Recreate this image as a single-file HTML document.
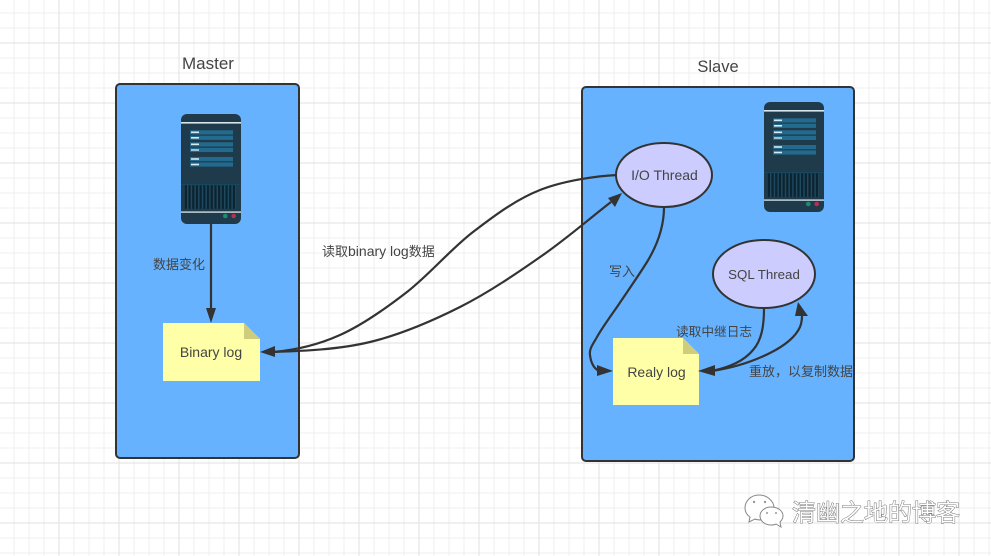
<!DOCTYPE html>
<html>
<head>
<meta charset="utf-8">
<style>
html,body{margin:0;padding:0;background:#fff}
svg{display:block}
text{font-family:"Liberation Sans","Noto Sans CJK SC",sans-serif;fill:#444}
</style>
</head>
<body>
<svg width="991" height="556" viewBox="0 0 991 556" xmlns="http://www.w3.org/2000/svg">
<defs>
<pattern id="g" width="15" height="15" patternUnits="userSpaceOnUse" x="-1.5" y="-2.5">
<path d="M0 0H15M0 0V15" stroke="#efefef" stroke-width="2" fill="none"/>
</pattern>
<pattern id="G" width="60" height="60" patternUnits="userSpaceOnUse" x="-1.5" y="-17.5">
<path d="M0 0H60M0 0V60" stroke="#e2e2e2" stroke-width="2" fill="none"/>
</pattern>
<pattern id="v" width="3.7" height="30" patternUnits="userSpaceOnUse">
<rect width="3.7" height="30" fill="#0c2431"/>
<rect x="2.3" width="1.4" height="30" fill="#1e4a60"/>
</pattern>
<g id="srv">
<rect x="0" y="0" width="60" height="110" rx="6" fill="#1f3a4a"/>
<rect x="0" y="8" width="60" height="1.6" fill="#d7e6ec"/>
<rect x="0" y="97.3" width="60" height="1.6" fill="#b7c8cf"/>
<rect x="0" y="70" width="60" height="1" fill="#17485f"/>
<g fill="#236b8e">
<rect x="9" y="16.3" width="43" height="4.2"/><rect x="9" y="21.7" width="43" height="4.2"/>
<rect x="9" y="28.3" width="43" height="4.2"/><rect x="9" y="33.8" width="43" height="4.2"/>
<rect x="9" y="43" width="43" height="4.2"/><rect x="9" y="48.4" width="43" height="4.2"/>
</g>
<g fill="#d5eaf3">
<rect x="10" y="17.5" width="8" height="1.6"/><rect x="10" y="23" width="8" height="1.6"/>
<rect x="10" y="29.5" width="8" height="1.6"/><rect x="10" y="35" width="8" height="2" fill="#9bc0cf"/>
<rect x="10" y="44.2" width="8" height="1.6"/><rect x="10" y="49.7" width="8" height="1.6"/>
</g>
<rect x="3.7" y="71.3" width="52" height="23.5" fill="url(#v)"/>
<circle cx="44.3" cy="102" r="2.3" fill="#1e8a6e"/>
<circle cx="52.7" cy="102" r="2.3" fill="#b5304f"/>
</g>
</defs>
<rect width="991" height="556" fill="#fff"/>
<rect width="991" height="556" fill="url(#g)"/>
<rect width="991" height="556" fill="url(#G)"/>

<rect x="116" y="84" width="183" height="374" rx="4" fill="#66b2ff" stroke="#333" stroke-width="2"/>
<rect x="582" y="87" width="272" height="374" rx="4" fill="#66b2ff" stroke="#333" stroke-width="2"/>

<text x="208" y="69" font-size="17" text-anchor="middle" fill="#333">Master</text>
<text x="718" y="72" font-size="16.5" text-anchor="middle" fill="#333">Slave</text>

<use href="#srv" x="181" y="114"/>
<use href="#srv" x="764" y="102"/>

<!-- notes -->
<path d="M163 323H244L260 339V381H163Z" fill="#ffffa8"/>
<path d="M244 323L260 339H244Z" fill="#cfcd7c"/>
<path d="M613 338H683L699 354V405H613Z" fill="#ffffa8"/>
<path d="M683 338L699 354H683Z" fill="#cfcd7c"/>
<text x="211" y="357" font-size="14" text-anchor="middle">Binary log</text>
<text x="656.5" y="377" font-size="14" text-anchor="middle">Realy log</text>

<!-- connectors -->
<g fill="none" stroke="#333" stroke-width="2.2">
<path d="M211 224V312"/>
<path d="M617 175C597 176 564 180.5 540 190C516 199.500 495.200 215 473 232C450.800 249 429.200 274.800 407 292C384.800 309.200 362.300 325 340 335C317.700 345 297 350 273 352"/>
<path d="M611 202C589 219 568 237.500 543 255C518 272.500 488.800 292.500 460 307C431.200 321.500 401 334.500 370 342C339 349.500 303 351 273 352"/>
<path d="M664 207C664 226 658 244 647 262C637 278 627 292 617 307C610 317 602 328 597 337C593 344 589 349 590 355C591 364 595 370 600 371"/>
<path d="M764 308C764 325 762 340 753 350C744 361 730 367 712 371"/>
<path d="M712 371C732 368 752 362 770 353C782 347 795 338 800 327C802 322 802 318 802 313"/>
</g>
<g fill="#333">
<path d="M211 323L206 308H216Z"/>
<path d="M260 352L275 346V357Z"/>
<path d="M622 193L615 207L608 198Z"/>
<path d="M613 371L597 365V376Z"/>
<path d="M698 371L715 365V376Z"/>
<path d="M798 302L808 316L795 316Z"/>
</g>

<!-- ellipses -->
<ellipse cx="664" cy="175" rx="48" ry="32" fill="#ccccff" stroke="#333" stroke-width="2"/>
<ellipse cx="764" cy="274" rx="51" ry="34" fill="#ccccff" stroke="#333" stroke-width="2"/>
<text x="664.5" y="180" font-size="14" text-anchor="middle">I/O Thread</text>
<text x="764" y="279" font-size="13.300" text-anchor="middle">SQL Thread</text>

<!-- labels -->
<text x="153" y="269" font-size="13">数据变化</text>
<text x="322" y="256" font-size="13">读取<tspan font-size="14">binary log</tspan>数据</text>
<text x="609" y="276" font-size="13">写入</text>
<text x="676" y="336" font-size="12.7">读取中继日志</text>
<text x="749" y="376" font-size="13">重放，以复制数据</text>

<!-- watermark -->
<g fill="#fff" stroke="#888" stroke-width="1">
<path d="M759 495C751 495 745 501 745 508C745 512 747 515 750 517L749 522L755 519C757 520 759 520 762 520C769 520 774 514 774 508C774 501 767 495 759 495Z"/>
<path d="M771 507C765 507 760 511 760 516C760 521 765 525 771 525C773 525 775 525 776 524L781 527L780 522C782 520 783 518 783 516C783 511 778 507 771 507Z"/>
</g>
<g fill="#999">
<circle cx="754" cy="502" r="1.2"/><circle cx="765" cy="502" r="1.2"/>
<circle cx="767" cy="513" r="1"/><circle cx="776" cy="513" r="1"/>
</g>
<text x="792" y="521" font-size="24" style="fill:#fff;stroke:#555;stroke-width:.8px;paint-order:stroke">清幽之地的博客</text>
</svg>
</body>
</html>
